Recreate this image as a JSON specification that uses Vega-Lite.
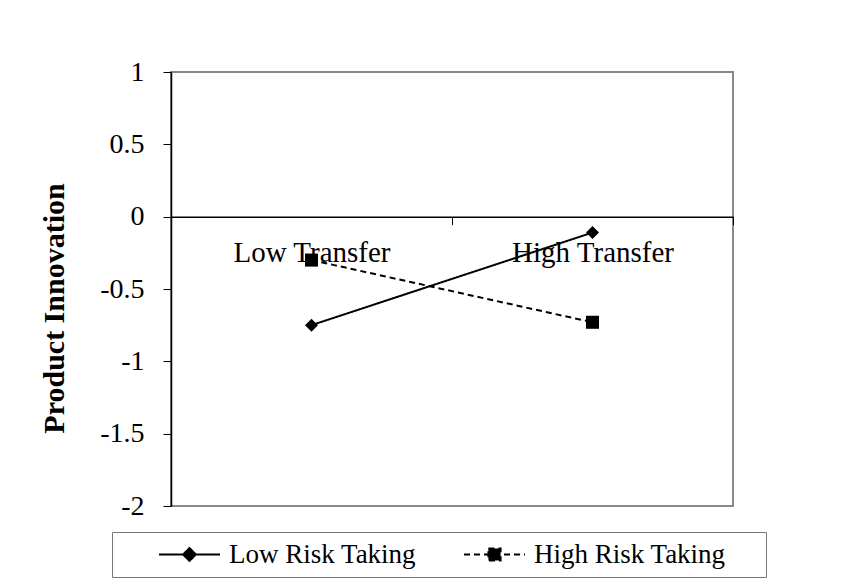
{
  "$schema": "https://vega.github.io/schema/vega-lite/v6.json",
  "width": 562,
  "height": 434,
  "autosize": {"type": "none"},
  "padding": {"left": 171, "top": 72, "right": 127, "bottom": 82},
  "background": "white",
  "data": {"values": [
    {"transfer": "Low Transfer", "series": "Low Risk Taking", "value": -0.75},
    {"transfer": "High Transfer", "series": "Low Risk Taking", "value": -0.11},
    {"transfer": "Low Transfer", "series": "High Risk Taking", "value": -0.30},
    {"transfer": "High Transfer", "series": "High Risk Taking", "value": -0.73}
  ]},
  "encoding": {
    "x": {
      "field": "transfer", "type": "nominal",
      "sort": ["Low Transfer", "High Transfer"],
      "scale": {"type": "band", "paddingInner": 0, "paddingOuter": 0},
      "axis": {
        "title": null, "orient": "bottom", "offset": -289.33, "tickBand": "extent",
        "labelAngle": 0, "grid": false, "tickSize": 8, "tickColor": "black", "tickWidth": 1,
        "domainColor": "black", "domainWidth": 1.5,
        "labelFont": "Liberation Serif", "labelFontSize": 29, "labelColor": "black",
        "labelPadding": 37, "labelBaseline": "alphabetic"
      }
    },
    "y": {
      "field": "value", "type": "quantitative",
      "scale": {"domain": [-2, 1], "nice": false, "zero": false},
      "axis": {
        "title": "Product Innovation", "values": [-2, -1.5, -1, -0.5, 0, 0.5, 1],
        "labelExpr": "'' + datum.value", "grid": false,
        "tickSize": 8, "tickColor": "black", "tickWidth": 1,
        "domainColor": "black", "domainWidth": 1.5,
        "labelFont": "Liberation Serif", "labelFontSize": 28, "labelColor": "black", "labelPadding": 19,
        "titleFont": "Liberation Serif", "titleFontSize": 30, "titleFontWeight": "bold", "titleColor": "black",
        "titlePadding": 30, "titleY": 236
      }
    }
  },
  "layer": [
    {
      "mark": {"type": "line", "color": "black", "strokeWidth": 2},
      "encoding": {
        "strokeDash": {
          "field": "series", "type": "nominal",
          "scale": {"domain": ["Low Risk Taking", "High Risk Taking"], "range": [[1, 0], [6, 4]]},
          "legend": {
            "orient": "none", "legendX": -59, "legendY": 460, "direction": "horizontal",
            "title": "\u00a0", "titleOrient": "right", "titleFontSize": 10, "titlePadding": 31,
            "padding": 9, "strokeColor": "#777", "cornerRadius": 0,
            "labelFont": "Liberation Serif", "labelFontSize": 27, "labelColor": "black",
            "symbolOffset": 37, "labelOffset": 8, "columnPadding": 9, "labelLimit": 400,
            "symbolSize": 3721, "clipHeight": 27,
            "symbolStrokeWidth": 2, "symbolStrokeColor": "black", "symbolFillColor": "black",
            "encode": {"symbols": {"update": {
              "shape": {"signal": "datum.value === 'Low Risk Taking' ? 'M-1,0H1M0,-0.21L0.21,0L0,0.21L-0.21,0Z' : 'M-1,0H1M-0.2,-0.2H0.2V0.2H-0.2Z'"},
              "fill": {"value": "black"},
              "stroke": {"value": "black"}
            }}}
          }
        }
      }
    },
    {
      "transform": [{"filter": "datum.series === 'Low Risk Taking'"}],
      "mark": {"type": "point", "filled": true, "color": "black", "opacity": 1, "size": 170, "shape": "diamond"},
      "encoding": {}
    },
    {
      "transform": [{"filter": "datum.series === 'High Risk Taking'"}],
      "mark": {"type": "point", "filled": true, "color": "black", "opacity": 1, "size": 170, "shape": "square"},
      "encoding": {}
    }
  ],
  "config": {"view": {"stroke": "#888", "strokeWidth": 2}}
}
